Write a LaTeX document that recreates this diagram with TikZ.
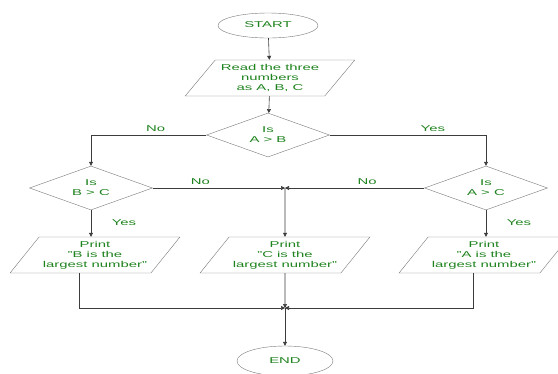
\documentclass[tikz,border=0pt]{standalone}
\usepackage{graphicx}
\usepackage{fontspec}
\setmainfont{Liberation Sans}
\usetikzlibrary{arrows.meta,shapes.geometric}

\definecolor{txtgreen}{RGB}{30,130,30}
\definecolor{boxgray}{RGB}{120,120,120}
\definecolor{linegray}{RGB}{60,60,60}

% wide text, as in the drawing
\newcommand{\wtxt}[1]{\scalebox{1.75}[1]{\begin{tabular}{@{}c@{}}#1\end{tabular}}}

\begin{document}
\begin{tikzpicture}[x=1pt, y=-1pt, >={Triangle[length=4pt,width=4pt]},
  every node/.style={text=txtgreen, font=\fontsize{8.5}{10}\selectfont},
  term/.style={ellipse, draw=boxgray, inner sep=0pt},
  iobox/.style={trapezium, trapezium left angle=48, trapezium right angle=132,
    trapezium stretches=true, draw=boxgray, inner sep=0pt,
    minimum width=170pt, minimum height=36pt},
  decide/.style={diamond, draw=boxgray, inner sep=0pt, shape aspect=2.8,
    minimum width=123pt, minimum height=44pt},
  flow/.style={draw=linegray, line width=0.6pt},
  lbl/.style={inner sep=0.6pt}]
  \useasboundingbox (0,0) rectangle (558,373);

  % Start and input
  \node[term, minimum width=100pt, minimum height=25pt] (start) at (268,25.5) {\wtxt{START}};
  \node[iobox] (read) at (270,78) {\wtxt{Read the three\\numbers\\as A, B, C}};

  % Decisions
  \node[decide] (ab) at (268,135) {\wtxt{Is\\A > B}};
  \node[decide] (bc) at (91,188) {\wtxt{Is\\B > C}};
  \node[decide] (ac) at (486,188) {\wtxt{Is\\A > C}};

  % Outputs
  \node[iobox] (pb) at (95,255) {\wtxt{Print\\"B is the\\largest number"}};
  \node[iobox] (pc) at (285,255) {\wtxt{Print\\"C is the\\largest number"}};
  \node[iobox] (pa) at (484,255) {\wtxt{Print\\"A is the\\largest number"}};

  % End
  \node[term, minimum width=96pt, minimum height=30pt] (end) at (285,361) {\wtxt{END}};

  % Junctions
  \coordinate (jn) at (285,188);
  \coordinate (jm) at (285,308);

  % Connectors
  \draw[flow, ->] (start) -- (read);
  \draw[flow, ->] (read) -- (ab);
  \draw[flow, ->] (ab.west) -| (bc.north) node[lbl, above, pos=0.22] {\wtxt{No}};
  \draw[flow, ->] (ab.east) -| (ac.north) node[lbl, above, pos=0.33] {\wtxt{Yes}};
  \draw[flow, ->] (bc.east) -- (jn) node[lbl, above, pos=0.36] {\wtxt{No}};
  \draw[flow, ->] (ac.west) -- (jn) node[lbl, above, pos=0.41] {\wtxt{No}};
  \draw[flow, ->] (jn) -- (pc.north);
  \draw[flow, ->] (bc.south) -- (pb.north -| bc.south) node[lbl, midway, right, xshift=20pt] {\wtxt{Yes}};
  \draw[flow, ->] (ac.south) -- (pa.north -| ac.south) node[lbl, midway, right, xshift=20pt] {\wtxt{Yes}};
  \draw[flow, ->] ([xshift=-16pt]pb.south) |- (jm);
  \draw[flow, ->] ([xshift=-11pt]pa.south) |- (jm);
  \draw[flow, ->] (pc.south) -- (jm);
  \draw[flow, ->] (jm) -- (end);
\end{tikzpicture}
\end{document}
